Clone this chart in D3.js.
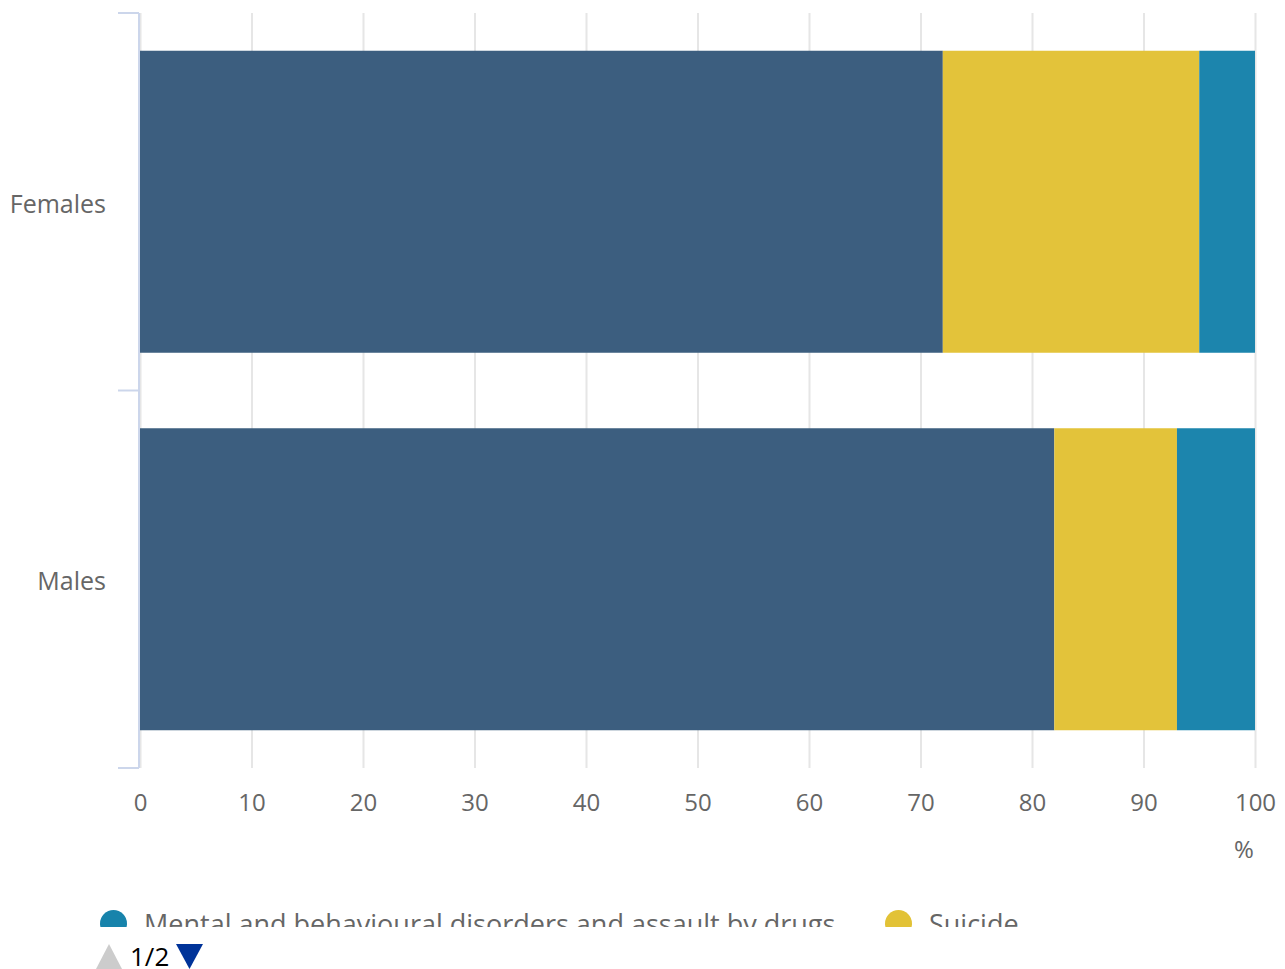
<!DOCTYPE html>
<html>
<head>
<meta charset="utf-8">
<script src="https://cdn.jsdelivr.net/npm/d3@7"></script>
<style>
  body { margin: 0; background: #fff; font-family: "Open Sans", sans-serif; }
  .grid line { stroke: #e6e6e6; stroke-width: 2; }
  .grid path { display: none; }
  .x.axis path, .x.axis line { display: none; }
  .x.axis text { fill: #666; font-size: 24px; font-family: "Open Sans", sans-serif; }
  .y.axis path, .y.axis line { stroke: #ccd6eb; stroke-width: 2; }
  .y.axis text { fill: #666; font-size: 25px; font-family: "Open Sans", sans-serif; }
</style>
</head>
<body>
<div id="chart"></div>
<script>

      var categories = ["Females", "Males"];
      var accidental = [72, 82];
      var suicide = [23, 11];
      var mental = [5, 7];
      var xTicks = [0, 10, 20, 30, 40, 50, 60, 70, 80, 90, 100];

      var seriesNames = ["Accidental poisoning", "Suicide", "Mental and behavioural disorders and assault by drugs"];
      var seriesColors = ["#385b7c", "#e2c236", "#1783ab"];

      var margin = {top: 13, right: 30, bottom: 201, left: 140};

      var width = 1285 - margin.left - margin.right,
          height = 969 - margin.top - margin.bottom;

      var svg = d3.select("#chart").append("svg")
                .attr("width", 1285)
                .attr("height", 969);

      var canvas = svg.append("g")
                .attr("transform", "translate(" + margin.left + "," + margin.top + ")");

      var data = categories.map(function(c, i) {
          return {cat: c, a: accidental[i], s: suicide[i], m: mental[i]};
      });

      var stacked = d3.stack().keys(["a", "s", "m"])(data);

      ////// Define Scales /////////////////
      var xScale = d3.scaleLinear()
          .domain([0, 100])
          .range([0, width]);
      var yScale = d3.scaleBand()
          .domain(categories)
          .range([0, height])
          .paddingInner(0.2)
          .paddingOuter(0.1);

      // grid
      canvas.append("g")
        .attr("class", "grid")
        .attr("transform", "translate(0," + height + ")")
        .call(d3.axisBottom(xScale).tickValues(xTicks).tickSize(-height).tickFormat(""));

      // bars
      canvas.append("g")
          .selectAll("g")
          .data(stacked)
          .enter()
          .append("g")
          .attr("fill", function(d, i) { return seriesColors[i]; })
          .selectAll("rect")
          .data(function(d) { return d; })
          .enter()
          .append("rect")
          .attr("x", function(d) { return xScale(d[0]); })
          .attr("width", function(d) { return xScale(d[1]) - xScale(d[0]); })
          .attr("y", function(d) { return yScale(d.data.cat); })
          .attr("height", yScale.bandwidth())
          .attr("fill-opacity", 0.98);

      // y axis with category dividers
      var yAx = canvas.append("g")
          .attr("class", "y axis");
      yAx.append("line")
          .attr("x1", -1).attr("x2", -1)
          .attr("y1", 0).attr("y2", height);
      var bounds = [0, height / 2, height];
      yAx.selectAll(".tk")
          .data(bounds)
          .enter()
          .append("line")
          .attr("class", "tk")
          .attr("x1", -22).attr("x2", -1)
          .attr("y1", function(d) { return d; })
          .attr("y2", function(d) { return d; });
      yAx.selectAll("text")
          .data(categories)
          .enter()
          .append("text")
          .attr("x", -34)
          .attr("y", function(d) { return yScale(d) + yScale.bandwidth() / 2 + 2; })
          .attr("dy", "0.35em")
          .attr("text-anchor", "end")
          .text(function(d) { return d; });

      // x axis
      canvas.append("g")
          .attr("class", "x axis")
          .attr("transform", "translate(0," + height + ")")
          .call(d3.axisBottom(xScale).tickValues(xTicks).tickSize(0).tickPadding(26));

      canvas.append("text")
          .attr("x", xScale(100) - 11)
          .attr("y", height + 90)
          .attr("text-anchor", "middle")
          .attr("fill", "#666")
          .style("font-size", "24px")
          .text("%");

      // legend (clipped, page 1 of 2)
      svg.append("clipPath")
          .attr("id", "legclip")
          .append("rect")
          .attr("x", 0).attr("y", 880)
          .attr("width", 1285).attr("height", 47);

      var legend = svg.append("g").attr("clip-path", "url(#legclip)");
      var legItems = [
          {name: seriesNames[2], color: seriesColors[2], x: 100},
          {name: seriesNames[1], color: seriesColors[1], x: 885}
      ];
      legItems.forEach(function(d) {
          legend.append("circle")
              .attr("cx", d.x + 13.5)
              .attr("cy", 923.5)
              .attr("r", 13.5)
              .attr("fill", d.color);
          legend.append("text")
              .attr("x", d.x + 44)
              .attr("y", 934)
              .attr("fill", "#666")
              .style("font-size", "27px")
              .text(d.name);
      });

      // pager
      svg.append("path")
          .attr("d", "M96,969 L109,944 L122,969 Z")
          .attr("fill", "#cccccc");
      svg.append("text")
          .attr("x", 130)
          .attr("y", 966)
          .attr("fill", "#000")
          .style("font-size", "26px")
          .text("1/2");
      svg.append("path")
          .attr("d", "M176,944 L203,944 L189.5,969 Z")
          .attr("fill", "#003399");

</script>
</body>
</html>
